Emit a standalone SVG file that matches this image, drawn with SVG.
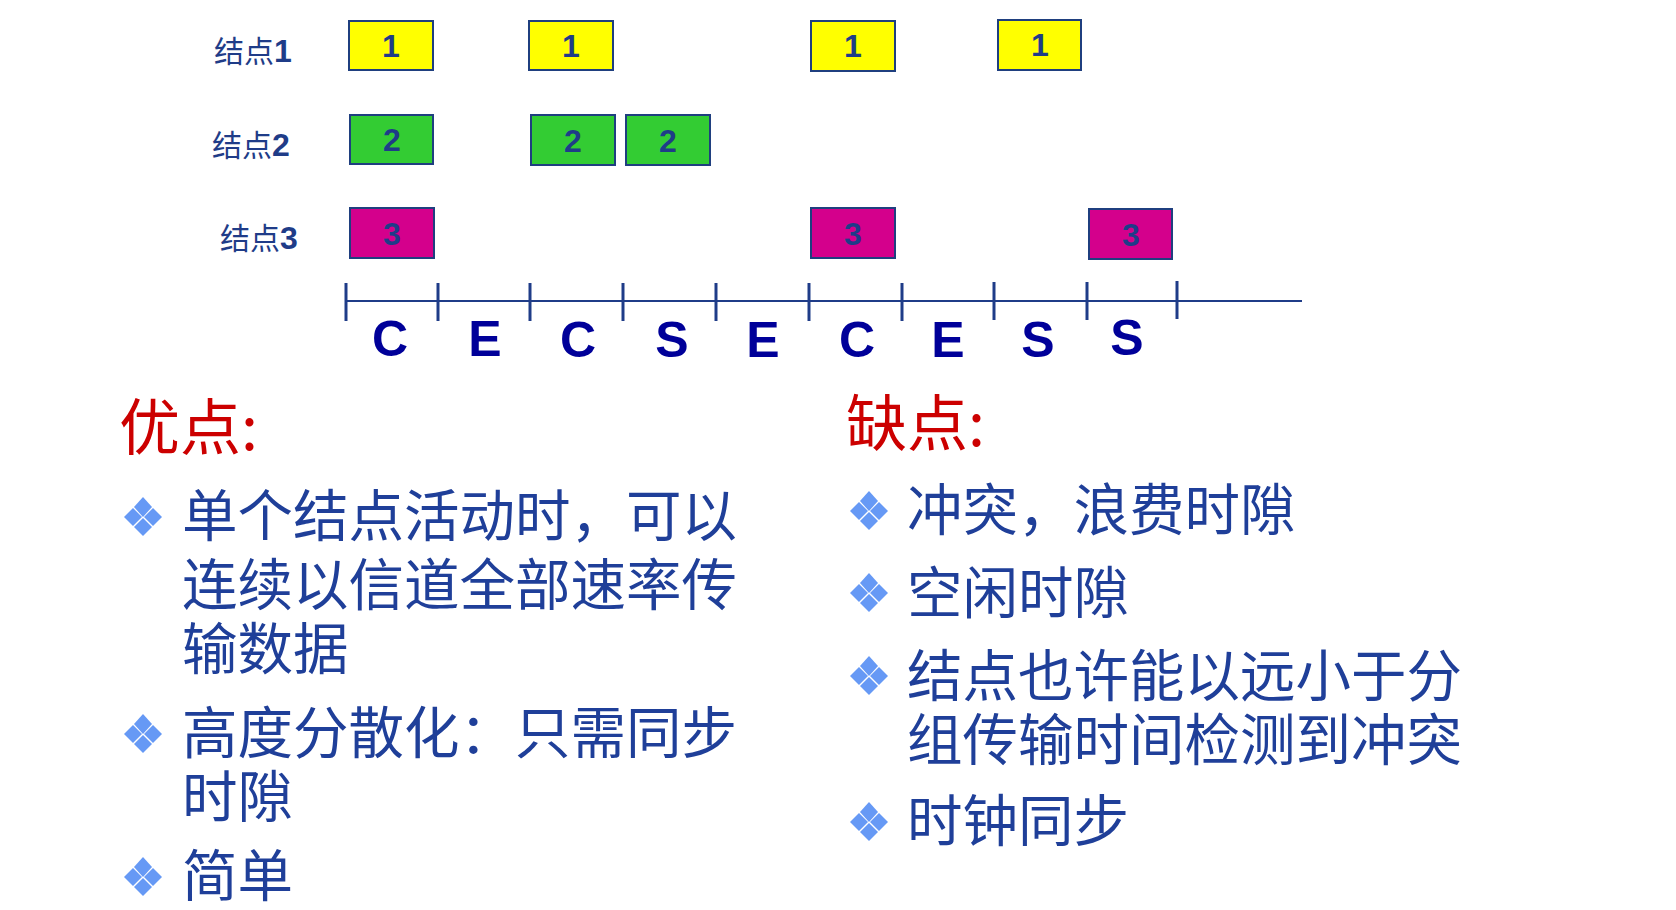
<svg xmlns="http://www.w3.org/2000/svg" xmlns:xlink="http://www.w3.org/1999/xlink" width="1676" height="910" viewBox="0 0 1676 910">
<style>
.box{stroke:#1F3F7F;stroke-width:2}
.y{fill:#FFFF00}.g{fill:#33CC33}.m{fill:#D4008C}
.num{font-family:"Liberation Sans",Arial,sans-serif;font-weight:bold;font-size:32px;fill:#1F3C88;text-anchor:middle}
.lbl{font-family:"Noto Sans CJK SC",sans-serif;font-size:30px;fill:#1F3C88}
.lbl tspan{font-family:"Liberation Sans",Arial,sans-serif;font-weight:bold;font-size:32px}
.axis{stroke:#1F3C88;fill:none}
.slot{font-family:"Liberation Sans",Arial,sans-serif;font-weight:bold;font-size:50px;fill:#000099;text-anchor:middle}
.title{font-family:"Noto Sans CJK SC",sans-serif;font-size:61px;fill:#CC0000}
.item{font-family:"Noto Sans CJK SC",sans-serif;font-size:55.5px;fill:#1F3F99}
.dia{fill:#6699F5}
</style>
<defs>
<g id="bullet">
<polygon class="dia" points="0,-20 9,-10 0,0 -9,-10"/>
<polygon class="dia" points="-10,-9 -1,0 -10,9 -19,0"/>
<polygon class="dia" points="10,-9 19,0 10,9 1,0"/>
<polygon class="dia" points="0,1 9,10 0,19 -9,10"/>
</g>
</defs>
<rect width="1676" height="910" fill="#FFFFFF"/>
<g id="labels">
<text class="lbl" x="214" y="62">结点<tspan>1</tspan></text>
<text class="lbl" x="212" y="156">结点<tspan>2</tspan></text>
<text class="lbl" x="220" y="249">结点<tspan>3</tspan></text>
</g>
<g id="node1-slots">
<rect class="box y" x="349" y="21" width="84" height="49"/><text class="num" x="391" y="57">1</text>
<rect class="box y" x="529" y="21" width="84" height="49"/><text class="num" x="571" y="57">1</text>
<rect class="box y" x="811" y="21" width="84" height="50"/><text class="num" x="853" y="57">1</text>
<rect class="box y" x="998" y="20" width="83" height="50"/><text class="num" x="1040" y="56">1</text>
</g>
<g id="node2-slots">
<rect class="box g" x="350" y="115" width="83" height="49"/><text class="num" x="392" y="151">2</text>
<rect class="box g" x="531" y="115" width="84" height="50"/><text class="num" x="573" y="152">2</text>
<rect class="box g" x="626" y="115" width="84" height="50"/><text class="num" x="668" y="152">2</text>
</g>
<g id="node3-slots">
<rect class="box m" x="350" y="208" width="84" height="50"/><text class="num" x="392" y="245">3</text>
<rect class="box m" x="811" y="208" width="84" height="50"/><text class="num" x="853" y="245">3</text>
<rect class="box m" x="1089" y="209" width="83" height="50"/><text class="num" x="1131" y="246">3</text>
</g>
<g id="timeline">
<line class="axis" x1="346" y1="301" x2="1302" y2="301" stroke-width="2"/>
<g stroke-width="3" class="axis">
<line x1="346" y1="283" x2="346" y2="321"/>
<line x1="438" y1="283" x2="438" y2="321"/>
<line x1="530" y1="283" x2="530" y2="321"/>
<line x1="623" y1="283" x2="623" y2="321"/>
<line x1="716" y1="283" x2="716" y2="321"/>
<line x1="809" y1="283" x2="809" y2="321"/>
<line x1="902" y1="283" x2="902" y2="321"/>
<line x1="994" y1="282" x2="994" y2="320"/>
<line x1="1087" y1="282" x2="1087" y2="320"/>
<line x1="1177" y1="281" x2="1177" y2="319"/>
</g>
<text class="slot" x="390" y="356">C</text>
<text class="slot" x="485" y="356">E</text>
<text class="slot" x="578" y="357">C</text>
<text class="slot" x="672" y="357">S</text>
<text class="slot" x="763" y="357">E</text>
<text class="slot" x="857" y="357">C</text>
<text class="slot" x="948" y="357">E</text>
<text class="slot" x="1038" y="357">S</text>
<text class="slot" x="1127" y="355">S</text>
</g>
<g id="advantages">
<text class="title" x="119" y="450">优点:</text>
<use xlink:href="#bullet" x="143" y="517"/>
<text class="item" x="182" y="536">单个结点活动时，可以</text>
<text class="item" x="182" y="605">连续以信道全部速率传</text>
<text class="item" x="182" y="669">输数据</text>
<use xlink:href="#bullet" x="143" y="734"/>
<text class="item" x="182" y="753">高度分散化：只需同步</text>
<text class="item" x="182" y="817">时隙</text>
<use xlink:href="#bullet" x="143" y="877"/>
<text class="item" x="182" y="896">简单</text>
</g>
<g id="disadvantages">
<text class="title" x="846" y="446">缺点:</text>
<use xlink:href="#bullet" x="869" y="511"/>
<text class="item" x="907" y="530">冲突，浪费时隙</text>
<use xlink:href="#bullet" x="869" y="593"/>
<text class="item" x="907" y="613">空闲时隙</text>
<use xlink:href="#bullet" x="869" y="676"/>
<text class="item" x="907" y="696">结点也许能以远小于分</text>
<text class="item" x="907" y="760">组传输时间检测到冲突</text>
<use xlink:href="#bullet" x="869" y="822"/>
<text class="item" x="907" y="841">时钟同步</text>
</g>
</svg>
